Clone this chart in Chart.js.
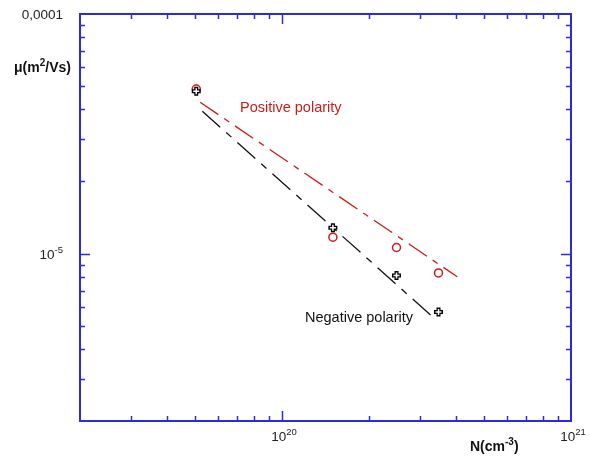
<!DOCTYPE html>
<html>
<head>
<meta charset="utf-8">
<script src="https://cdn.jsdelivr.net/npm/chart.js@4.4.1/dist/chart.umd.min.js"></script>
<style>
  html, body { margin: 0; padding: 0; background: #fff; }
  #wrap { width: 590px; height: 457px; }
</style>
</head>
<body>
<div id="wrap"><canvas id="myChart"></canvas></div>
<script>
// measured points, N in cm^-3, mu in m^2/Vs
const posN = [5.05e19, 1.5e20, 2.49e20, 3.48e20];
const posMu = [4.86e-5, 1.17e-5, 1.06e-5, 8.3e-6];
const negN = [5.05e19, 1.5e20, 2.49e20, 3.48e20];
const negMu = [4.76e-5, 1.28e-5, 8.1e-6, 5.7e-6];

// fitted power-law lines (end points)
const posFitN = [5.21e19, 4.04e20];
const posFitMu = [4.28e-5, 8.0e-6];
const negFitN = [5.3e19, 3.29e20];
const negFitMu = [3.93e-5, 5.5e-6];

// axis ticks and labels
const xTickValues = [1e20, 1e21];
const xTickLabels = [["10", "20"], ["10", "21"]];
const yTickValues = [1e-4, 1e-5];
const yTickLabels = [["0,0001", ""], ["10", "-5"]];

const axisBlue = "#2a2ae0";
const red = "#cc1a1a";
const FONT = "'Liberation Sans', Arial, sans-serif";

function pts(xs, ys) {
  return xs.map((x, i) => ({ x: x, y: ys[i] }));
}

// inward ticks, frame, tick labels and annotations
const framePlugin = {
  id: "frame",
  afterDraw(chart) {
    const { ctx, chartArea: a, scales } = chart;
    const xs = scales.x, ys = scales.y;
    ctx.save();
    ctx.strokeStyle = axisBlue;
    ctx.lineWidth = 2;
    ctx.strokeRect(a.left, a.top, a.right - a.left, a.bottom - a.top);

    ctx.lineWidth = 1.5;
    function xTick(v, len) {
      const p = Math.round(xs.getPixelForValue(v)) + 0.5;
      if (p < a.left + 1 || p > a.right - 1) return;
      ctx.beginPath();
      ctx.moveTo(p, a.bottom); ctx.lineTo(p, a.bottom - len);
      ctx.moveTo(p, a.top); ctx.lineTo(p, a.top + len);
      ctx.stroke();
    }
    function yTick(v, len) {
      const p = Math.round(ys.getPixelForValue(v)) + 0.5;
      if (p < a.top + 1 || p > a.bottom - 1) return;
      ctx.beginPath();
      ctx.moveTo(a.left, p); ctx.lineTo(a.left + len, p);
      ctx.moveTo(a.right, p); ctx.lineTo(a.right - len, p);
      ctx.stroke();
    }
    for (let d = 19; d <= 20; d++) {
      for (let m = 2; m <= 9; m++) xTick(m * Math.pow(10, d), 5);
    }
    xTickValues.forEach((v) => xTick(v, 10));
    for (let d = -6; d <= -5; d++) {
      for (let m = 2; m <= 9; m++) yTick(m * Math.pow(10, d), 5);
    }
    yTickValues.forEach((v) => yTick(v, 10));

    ctx.fillStyle = "#222";
    ctx.textBaseline = "alphabetic";
    function supLabel(base, exp, x, y, align) {
      ctx.font = "13.5px " + FONT;
      const bw = ctx.measureText(base).width;
      ctx.font = "9.5px " + FONT;
      const ew = exp ? ctx.measureText(exp).width : 0;
      let sx = x;
      if (align === "center") sx = x - (bw + ew) / 2;
      if (align === "right") sx = x - (bw + ew);
      ctx.textAlign = "left";
      ctx.font = "13.5px " + FONT;
      ctx.fillText(base, sx, y);
      if (exp) {
        ctx.font = "9.5px " + FONT;
        ctx.fillText(exp, sx + bw, y - 6);
      }
    }
    xTickValues.forEach((v, i) => {
      supLabel(xTickLabels[i][0], xTickLabels[i][1], xs.getPixelForValue(v) + 2, a.bottom + 20, "center");
    });
    yTickValues.forEach((v, i) => {
      supLabel(yTickLabels[i][0], yTickLabels[i][1], a.left - 17, ys.getPixelForValue(v) + 5, "right");
    });

    // axis titles
    function supTitle(parts, x, y) {
      let cx = x;
      parts.forEach(([txt, sup]) => {
        ctx.font = sup ? "bold 10px " + FONT : "bold 14px " + FONT;
        ctx.fillText(txt, cx, sup ? y - 6 : y);
        cx += ctx.measureText(txt).width;
      });
    }
    ctx.fillStyle = "#111";
    ctx.textAlign = "left";
    supTitle([["\u03bc(m", false], ["2", true], ["/Vs)", false]], 14, 72);
    supTitle([["N(cm", false], ["-3", true], [")", false]], 470, 451);

    // series annotations
    ctx.font = "14.5px " + FONT;
    ctx.fillStyle = red;
    ctx.fillText("Positive polarity", 240, 112);
    ctx.fillStyle = "#111";
    ctx.fillText("Negative polarity", 305, 322);
    ctx.restore();
  },
};

const ctx = document.getElementById("myChart").getContext("2d");

const chartConfig = {
  type: "scatter",
  data: {
    datasets: [
      {
        label: "Positive fit",
        data: pts(posFitN, posFitMu),
        showLine: true,
        borderColor: red,
        borderWidth: 1.3,
        borderDash: [22, 7, 6, 7],
        pointRadius: 0,
        order: 4,
      },
      {
        label: "Negative fit",
        data: pts(negFitN, negFitMu),
        showLine: true,
        borderColor: "#111",
        borderWidth: 1.3,
        borderDash: [24, 8, 7, 8],
        pointRadius: 0,
        order: 3,
      },
      {
        label: "Positive polarity",
        data: pts(posN, posMu),
        pointStyle: "circle",
        pointRadius: 4,
        borderColor: red,
        borderWidth: 1.5,
        backgroundColor: "rgba(0,0,0,0)",
        order: 2,
      },
      {
        label: "Negative polarity",
        data: pts(negN, negMu),
        pointStyle: "cross",
        pointRadius: 4.5,
        borderColor: "#000",
        borderWidth: 4,
        order: 1,
      },
      {
        label: "Negative polarity (inner)",
        data: pts(negN, negMu),
        pointStyle: "cross",
        pointRadius: 3,
        borderColor: "#fff",
        borderWidth: 1.5,
        order: 0,
      },
    ],
  },
  options: {
    responsive: true,
    maintainAspectRatio: false,
    animation: false,
    layout: {
      padding: { left: 72, right: 19, top: 14, bottom: 28 },
    },
    plugins: {
      legend: { display: false },
      tooltip: { enabled: false },
    },
    scales: {
      x: {
        type: "logarithmic",
        min: 2e19,
        max: 1e21,
        grid: { display: false },
        border: { display: false },
        ticks: { display: false },
      },
      y: {
        type: "logarithmic",
        min: 2e-6,
        max: 1e-4,
        grid: { display: false },
        border: { display: false },
        ticks: { display: false },
      },
    },
  },
  plugins: [framePlugin],
};

const myChart = new Chart(ctx, chartConfig);
</script>
</body>
</html>
